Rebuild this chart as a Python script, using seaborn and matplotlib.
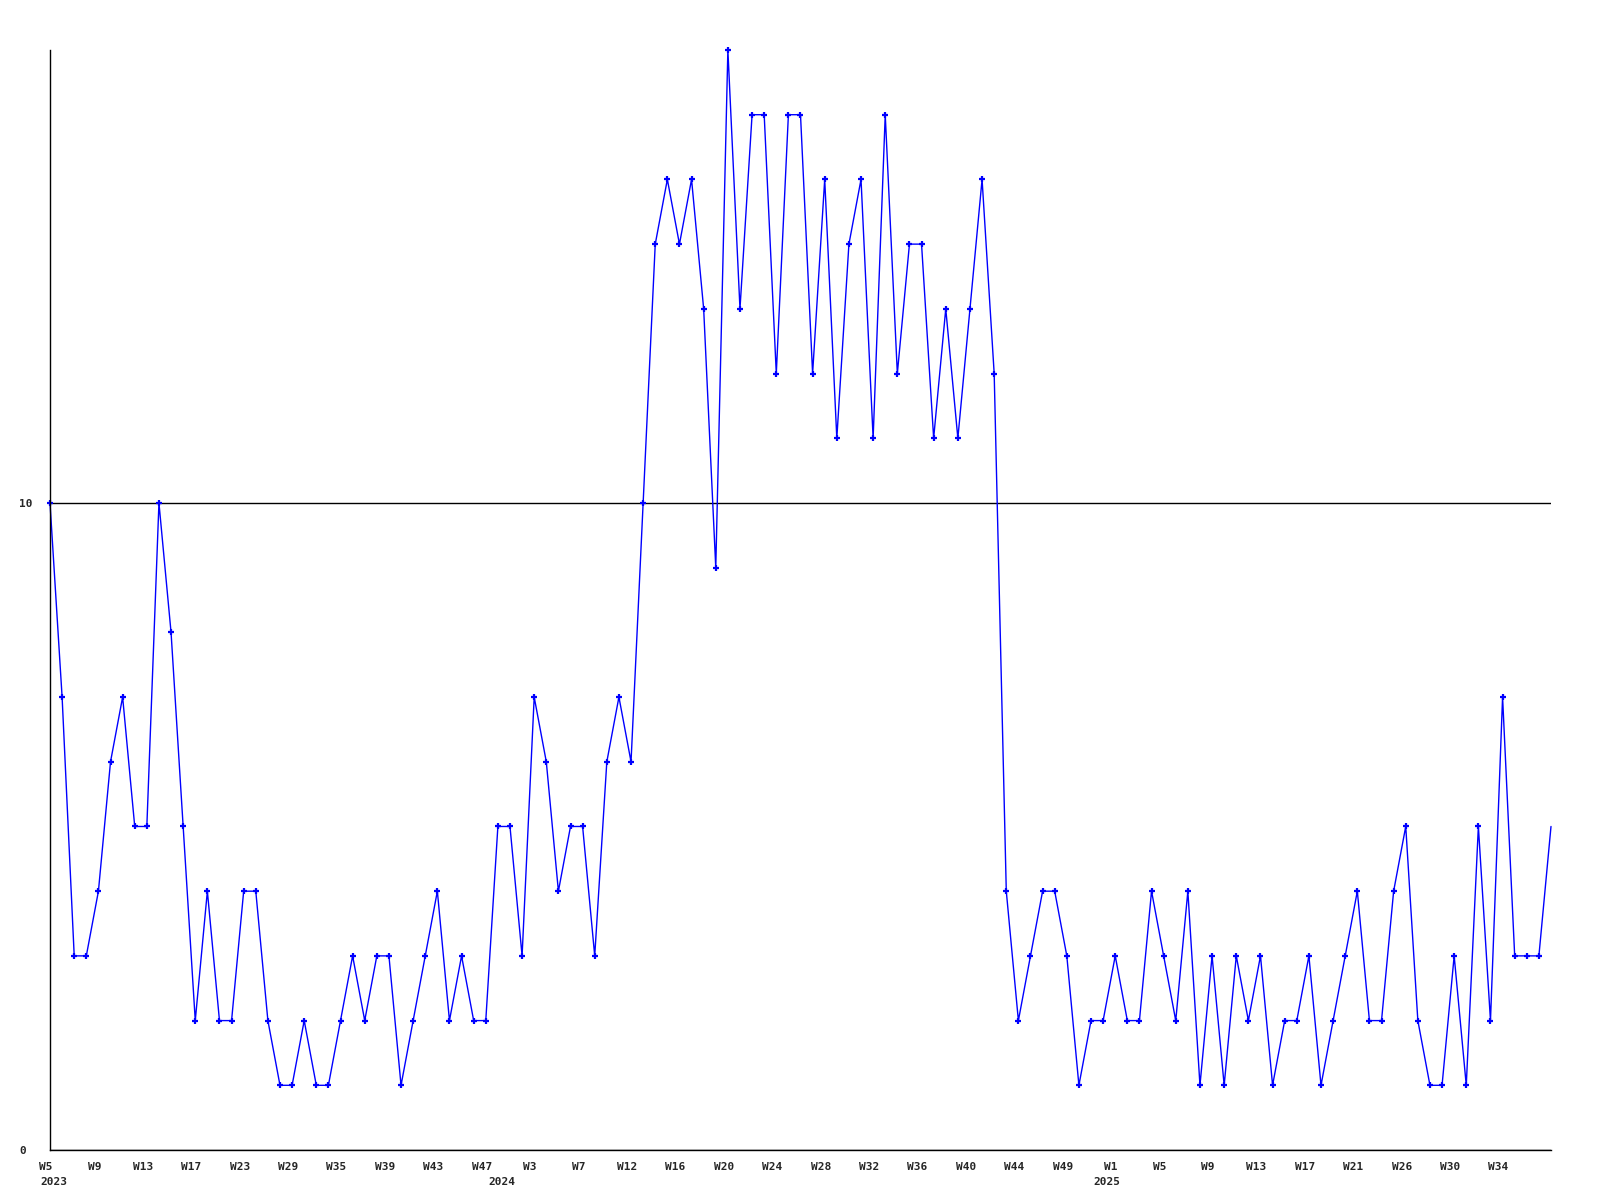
import numpy as np
import matplotlib.pyplot as plt
import matplotlib.transforms as mtransforms
import seaborn as sns

# Weekly values, 2023 W5 .. 2025 W37 (one point per reported week)
values = [10, 7, 3, 3, 4, 6, 7, 5, 5, 10,
          8, 5, 2, 4, 2, 2, 4, 4, 2, 1,
          1, 2, 1, 1, 2, 3, 2, 3, 3, 1,
          2, 3, 4, 2, 3, 2, 2, 5, 5, 3,
          7, 6, 4, 5, 5, 3, 6, 7, 6, 10,
          14, 15, 14, 15, 13, 9, 17, 13, 16, 16,
          12, 16, 16, 12, 15, 11, 14, 15, 11, 16,
          12, 14, 14, 11, 13, 11, 13, 15, 12, 4,
          2, 3, 4, 4, 3, 1, 2, 2, 3, 2,
          2, 4, 3, 2, 4, 1, 3, 1, 3, 2,
          3, 1, 2, 2, 3, 1, 2, 3, 4, 2,
          2, 4, 5, 2, 1, 1, 3, 1, 5, 2,
          7, 3, 3, 3, 5]

# Labels shown under every 4th point
week_labels = ["W5", "W9", "W13", "W17", "W23", "W29", "W35", "W39", "W43", "W47",
               "W3", "W7", "W12", "W16", "W20", "W24", "W28", "W32", "W36", "W40",
               "W44", "W49", "W1", "W5", "W9", "W13", "W17", "W21", "W26", "W30",
               "W34"]
years = ["2023", "2024", "2025"]
year_start = [0, 37, 87]

y_ticks = [0, 10]

sns.set_style("white")
plt.rcParams["font.family"] = ["DejaVu Sans Mono", "DejaVu Sans"]

fig = plt.figure(figsize=(16, 12), dpi=100)
ax = fig.add_axes([50 / 1600, 50 / 1200, 1501 / 1600, 1100 / 1200])

x = np.arange(len(values))
# last point is drawn without a marker, like the original
sns.lineplot(x=x, y=values, ax=ax, color="#0000ff", linewidth=1,
             marker="+", markersize=5, markeredgecolor="#0000ff",
             markeredgewidth=1.6, markevery=list(range(len(values) - 1)),
             clip_on=False)

ax.set_xlim(0, len(values) - 1)
ax.set_ylim(0, 17)

for side in ["top", "right"]:
    ax.spines[side].set_visible(False)
for side in ["left", "bottom"]:
    ax.spines[side].set_color("black")
    ax.spines[side].set_linewidth(1)

ax.set_xticks(x[::4][:len(week_labels)], week_labels)
ax.set_yticks(y_ticks, [str(v) for v in y_ticks])
ax.tick_params(axis="x", length=0, pad=8.5, labelsize=8)
ax.tick_params(axis="y", length=0, pad=22, labelsize=8)
shift = mtransforms.ScaledTranslation(-4 / 100, 0, fig.dpi_scale_trans)
for lbl in ax.get_xticklabels():
    lbl.set_fontweight("bold")
    lbl.set_transform(lbl.get_transform() + shift)
for lbl in ax.get_yticklabels():
    lbl.set_fontweight("bold")
    lbl.set_horizontalalignment("left")

ax.yaxis.grid(True, color="black", linewidth=1)
ax.xaxis.grid(False)

# Year labels under the first week of each year
trans = mtransforms.blended_transform_factory(ax.transData, ax.transAxes)
trans = mtransforms.offset_copy(trans, fig=fig, x=-10, y=-27, units="dots")
for yr, pos in zip(years, year_start):
    ax.text(pos, 0, yr, transform=trans, ha="left", va="top",
            fontsize=8, fontweight="bold")

ax.set_xlabel("")
ax.set_ylabel("")

plt.savefig("out.png", dpi=100, facecolor="white")
